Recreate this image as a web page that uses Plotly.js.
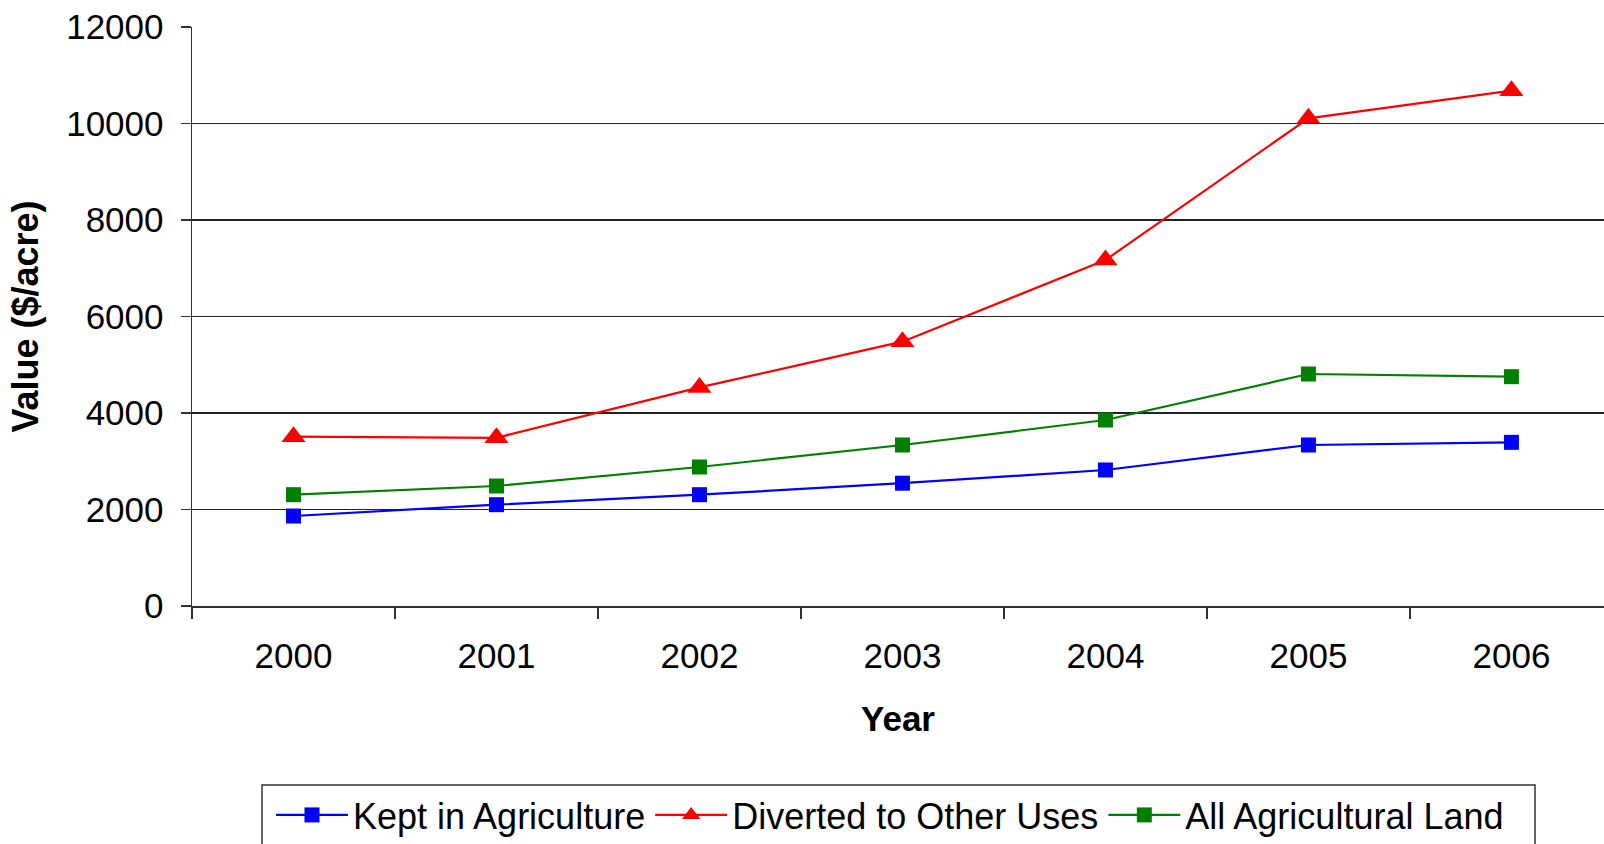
<!DOCTYPE html>
<html>
<head>
<meta charset="utf-8">
<script src="https://cdn.plot.ly/plotly-3.0.1.min.js"></script>
<style>html,body{margin:0;padding:0;background:#fff;overflow:hidden;}#chart{width:1604px;height:880px;}</style>
</head>
<body>
<div id="chart"></div>
<script>
const years = ["2000", "2001", "2002", "2003", "2004", "2005", "2006"];
const keptInAgriculture = [1865, 2100, 2307, 2545, 2819, 3337, 3392];
const divertedToOtherUses = [3510, 3485, 4530, 5478, 7171, 10108, 10680];
const allAgriculturalLand = [2307, 2487, 2881, 3337, 3855, 4808, 4753];
const seriesNames = ["Kept in Agriculture", "Diverted to Other Uses", "All Agricultural Land"];

const font = "Liberation Sans, Arial, sans-serif";

const traces = [
  {x: years, y: keptInAgriculture, name: seriesNames[0], type: "scatter", mode: "lines+markers",
   line: {color: "#0000FF", width: 2.2}, marker: {symbol: "square", size: 15, color: "#0000FF"}},
  {x: years, y: divertedToOtherUses, name: seriesNames[1], type: "scatter", mode: "lines+markers",
   line: {color: "#FF0000", width: 2.2}, marker: {symbol: "triangle-up", size: 21, color: "#FF0000"}},
  {x: years, y: allAgriculturalLand, name: seriesNames[2], type: "scatter", mode: "lines+markers",
   line: {color: "#008000", width: 2.2}, marker: {symbol: "square", size: 15, color: "#008000"}}
];

const figH = 880;
const plotL = 192, plotW = 1412, plotT = 27, plotH = 579;
const px = v => (v - plotL) / plotW;
const py = v => (plotT + plotH - v) / plotH;

const layout = {
  width: 1604, height: figH,
  margin: {l: plotL, r: 0, t: plotT, b: figH - plotT - plotH},
  paper_bgcolor: "#fff", plot_bgcolor: "#fff",
  font: {family: font, size: 35, color: "#000"},
  showlegend: true,
  xaxis: {
    type: "category", range: [-0.5, 6.456],
    tickson: "boundaries", ticks: "outside", ticklen: 11, tickcolor: "#333", tickwidth: 1.5,
    showline: true, linecolor: "#333", linewidth: 1.5,
    showgrid: false, zeroline: false,
    tickfont: {family: font, size: 35, color: "#000"},
    ticklabelstandoff: 18,
    title: {text: "Year", font: {family: font, size: 35, color: "#000", weight: "bold"}, standoff: 33},
    automargin: false
  },
  yaxis: {
    range: [0, 12000], dtick: 2000, tick0: 0, tickformat: "d",
    ticks: "outside", ticklen: 10, tickcolor: "#333", tickwidth: 1.5,
    showline: true, linecolor: "#333", linewidth: 1.5,
    showgrid: true, gridcolor: "#222", gridwidth: 1.4, zeroline: false,
    tickfont: {family: font, size: 35, color: "#000"},
    ticklabelstandoff: 10,
    title: {text: "Value ($/acre)", font: {family: font, size: 36, color: "#000", weight: "bold"}, standoff: 16},
    automargin: false
  },
  shapes: [{
    type: "rect", xref: "paper", yref: "paper",
    x0: px(262), x1: px(1535), y0: py(785), y1: py(875),
    line: {color: "#333", width: 1.5}, fillcolor: "rgba(0,0,0,0)", layer: "above"
  }],
  legend: {
    orientation: "h", xanchor: "left", yanchor: "top",
    x: px(271), y: py(785),
    bgcolor: "rgba(0,0,0,0)", borderwidth: 0,
    font: {family: font, size: 36, color: "#000"},
    itemwidth: 72, tracegroupgap: 0
  }
};

Plotly.newPlot("chart", traces, layout, {displayModeBar: false, staticPlot: true});
</script>
</body>
</html>
